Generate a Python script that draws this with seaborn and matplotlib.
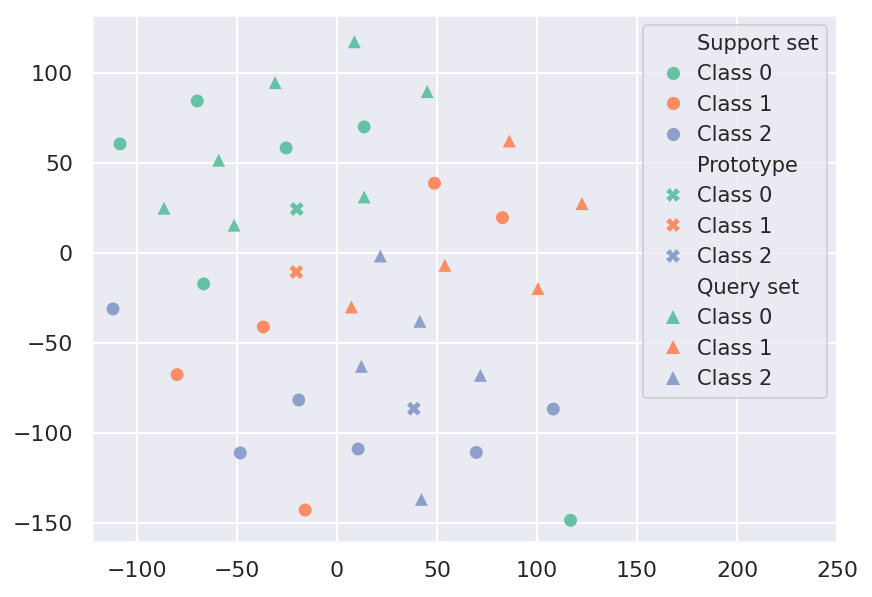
import seaborn as sns
import matplotlib.pyplot as plt
import pandas as pd
from matplotlib.lines import Line2D

# support set points (circles)
sup_x = [-108.3, -69.7, -25.3, 13.7, -66.5, 116.8,
         48.8, 82.8, -36.7, -79.8, -15.8,
         -111.8, -19.0, -48.2, 10.7, 69.7, 108.2]
sup_y = [60.8, 84.6, 58.5, 70.2, -17.0, -148.3,
         38.9, 19.8, -40.9, -67.4, -142.6,
         -30.9, -81.5, -110.9, -108.7, -110.6, -86.5]
sup_cls = ['Class 0'] * 6 + ['Class 1'] * 5 + ['Class 2'] * 6

# prototypes (crosses)
pro_x = [-20.0, -20.2, 38.5]
pro_y = [24.6, -10.4, -86.3]
pro_cls = ['Class 0', 'Class 1', 'Class 2']

# query set points (triangles)
qry_x = [8.8, -30.8, -59.0, -86.3, -51.3, 13.7, 45.2,
         86.2, 122.5, 54.0, 100.5, 7.3,
         21.8, 41.5, 12.3, 71.8, 42.3]
qry_y = [117.5, 94.8, 51.7, 25.0, 15.6, 31.3, 89.8,
         62.4, 27.6, -6.7, -19.6, -29.8,
         -1.5, -37.8, -62.8, -67.8, -136.7]
qry_cls = ['Class 0'] * 7 + ['Class 1'] * 5 + ['Class 2'] * 5

classes = ['Class 0', 'Class 1', 'Class 2']

sns.set_theme(style='darkgrid')
pal = sns.color_palette('Set2', 3)
cmap = dict(zip(classes, pal))

fig = plt.figure(figsize=(872 / 144, 597 / 144), dpi=144)
ax = fig.add_axes([0.1055, 0.092, 0.8545, 0.883])

sup = pd.DataFrame({'x': sup_x, 'y': sup_y, 'cls': sup_cls})
pro = pd.DataFrame({'x': pro_x, 'y': pro_y, 'cls': pro_cls})
qry = pd.DataFrame({'x': qry_x, 'y': qry_y, 'cls': qry_cls})

sns.scatterplot(data=sup, x='x', y='y', hue='cls', hue_order=classes,
                palette=cmap, marker='o', s=42, linewidth=0, legend=False, ax=ax)
sns.scatterplot(data=pro, x='x', y='y', hue='cls', hue_order=classes,
                palette=cmap, marker='X', s=48, linewidth=0, legend=False, ax=ax)
sns.scatterplot(data=qry, x='x', y='y', hue='cls', hue_order=classes,
                palette=cmap, marker='^', s=42, linewidth=0, legend=False, ax=ax)

ax.set_xlim(-122.3, 250)
ax.set_ylim(-160.4, 132.4)
ax.set_xlabel('')
ax.set_ylabel('')

handles, labels = [], []
for title, mk in [('Support set', 'o'), ('Prototype', 'X'), ('Query set', '^')]:
    handles.append(Line2D([], [], linestyle='none'))
    labels.append(title)
    for c in classes:
        handles.append(Line2D([], [], linestyle='none', marker=mk,
                              color=cmap[c], markeredgewidth=0,
                              markersize=6.6))
        labels.append(c)
ax.legend(handles, labels, loc='upper right', fontsize=10.5,
          handlelength=2.0, handletextpad=0.15)

fig.savefig('out.png', dpi=144)
